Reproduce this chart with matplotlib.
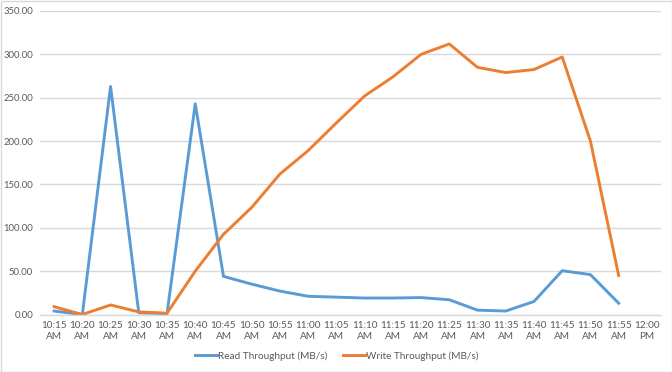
import matplotlib
matplotlib.use("Agg")
import matplotlib.pyplot as plt
from matplotlib.patches import Rectangle
import numpy as np

times = ["10:15\nAM", "10:20\nAM", "10:25\nAM", "10:30\nAM", "10:35\nAM", "10:40\nAM",
         "10:45\nAM", "10:50\nAM", "10:55\nAM", "11:00\nAM", "11:05\nAM", "11:10\nAM",
         "11:15\nAM", "11:20\nAM", "11:25\nAM", "11:30\nAM", "11:35\nAM", "11:40\nAM",
         "11:45\nAM", "11:50\nAM", "11:55\nAM", "12:00\nPM"]
read_tp = [4, 0, 263, 2, 1, 243, 44, 35, 27, 21, 20, 19, 19, 19.5, 17, 5, 4, 15, 50.5, 46, 13]
write_tp = [9, 0, 11, 3, 1.5, 50, 92.5, 123.5, 162, 189, 221, 252, 274, 300, 312, 285, 279, 282.5, 297, 200, 45]

plt.rcParams['font.family'] = ['Lato', 'DejaVu Sans']
fig = plt.figure(figsize=(6.72, 3.72), dpi=100)
fig.patches.append(Rectangle((0.5/672, 0.5/372), 1 - 1/672, 1 - 1/372, transform=fig.transFigure,
                             fill=False, edgecolor="#d9d9d9", lw=1))
ax = fig.add_axes([40/672, 1 - 314.5/372, 621/672, 303.5/372])

x = np.arange(len(times))
ax.plot(x[:len(read_tp)], read_tp, color="#5B9BD5", lw=2.1, label="Read Throughput (MB/s)",
        solid_joinstyle="round")
ax.plot(x[:len(write_tp)], write_tp, color="#ED7D31", lw=2.1, label="Write Throughput (MB/s)",
        solid_joinstyle="round")

ax.set_xlim(-0.5, len(times) - 0.5)
ax.set_ylim(0, 350)
ax.set_yticks(np.arange(0, 351, 50))
ax.set_yticklabels([f"{v:.2f}" for v in np.arange(0, 351, 50)])
ax.set_xticks(x)
ax.set_xticklabels(times, linespacing=1.25)
ax.tick_params(axis='both', length=0, labelsize=7.2, labelcolor="#595959")
ax.tick_params(axis='y', pad=5, labelsize=6.8)
ax.tick_params(axis='x', pad=5)
ax.grid(axis='y', color="#d9d9d9", lw=1)
ax.set_axisbelow(True)
for s in ["top", "right", "left"]:
    ax.spines[s].set_visible(False)
ax.spines["bottom"].set_color("#d9d9d9")
ax.spines["bottom"].set_linewidth(1)

leg = fig.legend(loc="center", bbox_to_anchor=(337/672, 1 - 356/372), ncol=2, frameon=False,
                 fontsize=7.2, handlelength=2.2, handletextpad=0.1, columnspacing=1.6)
for t in leg.get_texts():
    t.set_color("#595959")

fig.savefig("out.png", dpi=100)
